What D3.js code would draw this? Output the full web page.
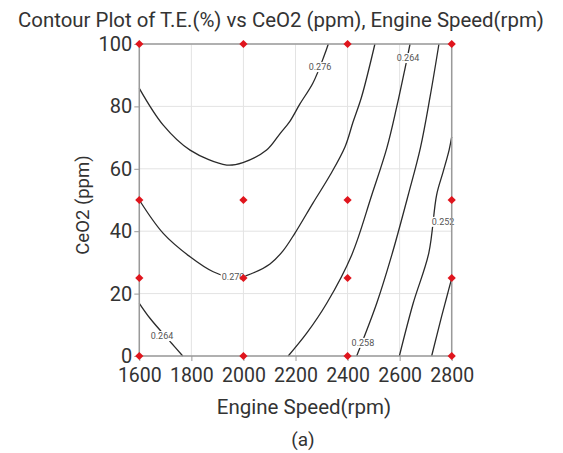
<!DOCTYPE html>
<html>
<head>
<meta charset="utf-8">
<script src="https://cdn.jsdelivr.net/npm/d3@7"></script>
<style>
  html, body { margin: 0; padding: 0; background: #fff; }
  svg { display: block; }
  text { font-family: Roboto, "Noto Sans", sans-serif; }
</style>
</head>
<body>
<svg id="chart" width="563" height="453"></svg>
<script>
// Engine speed (rpm) axis ticks and CeO2 (ppm) axis ticks
const speedTicks = [1600, 1800, 2000, 2200, 2400, 2600, 2800];
const ceo2Ticks = [0, 20, 40, 60, 80, 100];

// Design points of the experiment
const designSpeeds = [1600, 2000, 2400, 2800];
const designCeO2 = [0, 25, 50, 100];

// Contour lines of T.E.(%) as [speed, CeO2] traces
const contour0276 = [[1600, 85.8], [1692, 74.0], [1795, 66.0], [1936, 61.2], [1998, 62.0], [2089, 66.0],
  [2140, 71.2], [2179, 75.3], [2217, 80.8], [2267, 87.5], [2310, 96.2], [2326, 100]];
const contour0270 = [[1600, 50.0], [1692, 39.3], [1795, 31.8], [1884, 27.0], [1968, 25.0], [2037, 26.6],
  [2102, 29.5], [2152, 33.7], [2198, 39.4], [2267, 49.0], [2333, 58.0], [2390, 67.0], [2421, 75.0],
  [2454, 83.1], [2505, 100]];
const contour0264a = [[1600, 16.9], [1641, 12.1], [1724, 4.1], [1767, 0]];
const contour0264b = [[2640, 100], [2621, 92.3], [2589, 79.9], [2551, 66.7], [2493, 51.6], [2416, 32.4],
  [2320, 16.9], [2243, 7.3], [2172, 0]];
const contour0258 = [[2751, 100], [2717, 83.1], [2680, 66.8], [2633, 51.6], [2570, 32.4], [2512, 16.9], [2435, 0]];
const contour0252 = [[2800, 70.2], [2790, 66.0], [2767, 59.0], [2742, 51.6], [2712, 33.0], [2652, 16.9], [2599, 0]];
const contour0246 = [[2800, 24.9], [2780, 18.6], [2761, 12.6], [2723, 0]];

const contours = [contour0276, contour0270, contour0264a, contour0264b, contour0258, contour0252, contour0246];

// Contour level labels: value and anchor point [speed, CeO2]
const labelValues = ["0.276", "0.264", "0.252", "0.270", "0.264", "0.258"];
const labelAnchors = [[2294, 92.6], [2632, 95.5], [2767, 43.0], [1960, 25.3], [1687, 6.4], [2459, 4.2]];

const svg = d3.select("#chart");
const x = d3.scaleLinear().domain([1600, 2800]).range([139.3, 451.7]);
const y = d3.scaleLinear().domain([0, 100]).range([356, 44]);

// title
svg.append("text")
  .attr("x", 281).attr("y", 27)
  .attr("text-anchor", "middle")
  .attr("font-size", 20.4)
  .attr("fill", "#333")
  .text("Contour Plot of T.E.(%) vs CeO2 (ppm), Engine Speed(rpm)");

// grid
const grid = svg.append("g").attr("stroke", "#e3e3e3").attr("stroke-width", 1);
grid.selectAll("line.v").data(speedTicks).join("line")
  .attr("x1", d => x(d)).attr("x2", d => x(d))
  .attr("y1", y(0)).attr("y2", y(100));
grid.selectAll("line.h").data(ceo2Ticks).join("line")
  .attr("x1", x(1600)).attr("x2", x(2800))
  .attr("y1", d => y(d)).attr("y2", d => y(d));

// mask that opens gaps in the contour lines under their labels
const defs = svg.append("defs");
const mask = defs.append("mask").attr("id", "labelGaps").attr("maskUnits", "userSpaceOnUse");
mask.append("rect").attr("x", 0).attr("y", 0).attr("width", 563).attr("height", 453).attr("fill", "#fff");

const labelG = svg.append("g");
const labels = labelG.selectAll("text").data(labelValues).join("text")
  .attr("x", (d, i) => x(labelAnchors[i][0]))
  .attr("y", (d, i) => y(labelAnchors[i][1]))
  .attr("text-anchor", "middle")
  .attr("dominant-baseline", "central")
  .attr("font-size", 9)
  .attr("fill", "#555")
  .text(d => d);

labels.each(function () {
  const b = this.getBBox();
  mask.append("rect")
    .attr("x", b.x - 1).attr("y", b.y)
    .attr("width", b.width + 2).attr("height", b.height)
    .attr("fill", "#000");
});

// contour lines
const line = d3.line().x(d => x(d[0])).y(d => y(d[1])).curve(d3.curveCatmullRom.alpha(0.5));
svg.insert("g", () => labelG.node())
  .attr("mask", "url(#labelGaps)")
  .selectAll("path").data(contours).join("path")
  .attr("d", line)
  .attr("fill", "none")
  .attr("stroke", "#2a2a2a")
  .attr("stroke-width", 1.3);

// frame
svg.append("rect")
  .attr("x", x(1600)).attr("y", y(100))
  .attr("width", x(2800) - x(1600)).attr("height", y(0) - y(100))
  .attr("fill", "none").attr("stroke", "#9a9a9a").attr("stroke-width", 1.5);

// axes
const xAxis = svg.append("g").attr("transform", `translate(0,${y(0)})`)
  .call(d3.axisBottom(x).tickValues(speedTicks).tickSize(5).tickPadding(7).tickFormat(d3.format("d")));
const yAxis = svg.append("g").attr("transform", `translate(${x(1600)},0)`)
  .call(d3.axisLeft(y).tickValues(ceo2Ticks).tickSize(5).tickPadding(2).tickFormat(d3.format("d")));
[xAxis, yAxis].forEach(a => {
  a.select(".domain").remove();
  a.selectAll(".tick line").attr("stroke", "#9a9a9a");
  a.selectAll(".tick text").attr("font-size", 19.5).attr("fill", "#333")
    .attr("font-family", "Roboto, 'Noto Sans', sans-serif");
});
yAxis.selectAll(".tick text").attr("font-size", 20);

// design points
const pts = designSpeeds.flatMap(s => designCeO2.map(c => [s, c]));
svg.append("g").selectAll("path").data(pts).join("path")
  .attr("transform", d => `translate(${x(d[0])},${y(d[1])}) rotate(45)`)
  .attr("d", d3.symbol(d3.symbolSquare, 34))
  .attr("fill", "#e0151d");

// axis titles
svg.append("text")
  .attr("x", 304).attr("y", 414)
  .attr("text-anchor", "middle")
  .attr("font-size", 20.5).attr("fill", "#333")
  .text("Engine Speed(rpm)");
svg.append("text")
  .attr("transform", "translate(89,205) rotate(-90)")
  .attr("text-anchor", "middle")
  .attr("font-size", 18.5).attr("fill", "#333")
  .text("CeO2 (ppm)");
svg.append("text")
  .attr("x", 303).attr("y", 446)
  .attr("text-anchor", "middle")
  .attr("font-size", 19).attr("fill", "#333")
  .text("(a)");
</script>
</body>
</html>
